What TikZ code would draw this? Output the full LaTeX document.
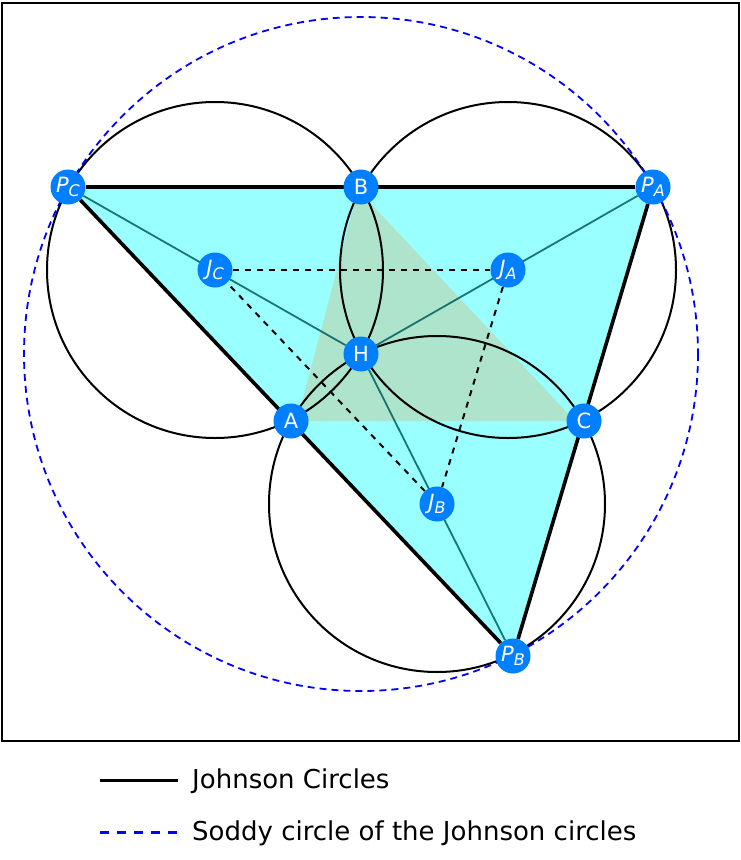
\documentclass[tikz,border=0pt]{standalone}
\usepackage{fontspec}
\setsansfont{DejaVu Sans}
\usetikzlibrary{backgrounds}
\definecolor{ptblue}{RGB}{0,127,255}
\definecolor{tricyan}{RGB}{153,255,255}
\definecolor{abcgreen}{RGB}{174,228,204}
\definecolor{raygreen}{RGB}{0,95,95}
\newcommand{\ptsub}[2]{\textit{#1}\raisebox{-4pt}{\fontsize{16}{16}\selectfont\itshape #2}}
\begin{document}
\begin{tikzpicture}[x=1pt,y=-1pt,
                    pnode/.style = {shape = circle,
                                    fill = ptblue,
                                    text = white,
                                    inner sep = 0pt,
                                    minimum size = 35pt,
                                    font = \fontsize{21}{21}\selectfont\sffamily},
                    johnson/.style = {draw, line width = 2pt},
                    soddy/.style = {draw = blue, line width = 1.8pt,
                                    dash pattern = on 7pt off 5pt},
                    ray/.style = {draw = raygreen, draw opacity = 0.85, line width = 1.8pt},
                    jline/.style = {draw, line width = 2pt,
                                    dash pattern = on 6pt off 6pt},
                    tri/.style = {draw, line width = 3.6pt},
                    legend/.style = {anchor = base west, inner sep = 0pt,
                                     font = \fontsize{26}{26}\selectfont\sffamily}]
		\useasboundingbox (0,0) rectangle (740,860);
		\draw[line width = 1.5pt] (2,3) rectangle (739,741);
		\node[pnode] (pc) at (68,187) {\ptsub{P}{C}};
		\node[pnode] (b) at (361,187) {B};
		\node[pnode] (pa) at (653,187) {\ptsub{P}{A}};
		\node[pnode] (jc) at (215,270) {\ptsub{J}{C}};
		\node[pnode] (ja) at (508,270) {\ptsub{J}{A}};
		\node[pnode] (h) at (361,354) {H};
		\node[pnode] (a) at (291,421) {A};
		\node[pnode] (c) at (584,421) {C};
		\node[pnode] (jb) at (437,504) {\ptsub{J}{B}};
		\node[pnode] (pb) at (513,656) {\ptsub{P}{B}};
		\begin{pgfonlayer}{background}
			\fill[tricyan] (pc.center) -- (pa.center) -- (pb.center) -- cycle;
			\fill[abcgreen] (297,421) -- (358,190) -- (575,421) -- cycle;
			\path[ray] (pc) edge (h);
			\path[ray] (pa) edge (h);
			\path[ray] (pb) edge (h);
			\path[jline] (jc) edge (ja);
			\path[jline] (ja) edge (jb);
			\path[jline] (jb) edge (jc);
			\draw[johnson] (jc.center) circle[radius = 168];
			\draw[johnson] (ja.center) circle[radius = 168];
			\draw[johnson] (jb.center) circle[radius = 168];
			\draw[soddy] (h.center) circle[radius = 337];
			\path[tri] (pc) edge (pa);
			\path[tri] (pa) edge (pb);
			\path[tri] (pb) edge (pc);
		\end{pgfonlayer}
		\coordinate (l1a) at (100,780);
		\coordinate (l1b) at (178,780);
		\coordinate (l2a) at (100,832);
		\coordinate (l2b) at (178,832);
		\draw[line width = 3pt] (l1a) -- (l1b);
		\draw[blue, line width = 3pt, dash pattern = on 9pt off 8pt] (l2a) -- (l2b);
		\node[legend] (ljohnson) at (192,788) {Johnson Circles};
		\node[legend] (lsoddy) at (192,840) {Soddy circle of the Johnson circles};
	\end{tikzpicture}
\end{document}
